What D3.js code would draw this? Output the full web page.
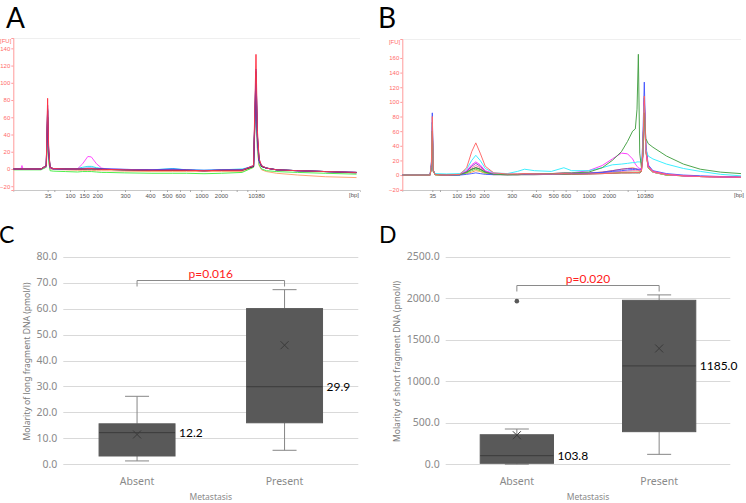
<!DOCTYPE html>
<html><head><meta charset="utf-8">
<script src="https://cdn.jsdelivr.net/npm/d3@7/dist/d3.min.js"></script>
<style>body{margin:0;background:#fff}svg{display:block}</style>
</head><body>
<svg id="c" width="746" height="503"></svg>
<script>
// ---------- Electropherogram data (migration units, FU) ----------
const ladderLabels = ["35","","100","150","200","300","400","500","600","","1000","2000","","","10380"];
const aLadderTimes = [9.91,11.83,16.35,20.39,24.24,32.22,39.43,44.33,48.08,50.97,54.23,59.9,64.43,67.5,70.0];
const bLadderTimes = [8.87,11.13,16.05,19.99,24.12,32.29,39.47,44.6,48.23,51.48,55.03,61.03,66.54,69.3,71.6];
const aYTicks = [-20,0,20,40,60,80,100,120,140];
const bYTicks = [-20,0,20,40,60,80,100,120,140,160];

const aTimes = [0,2.2,2.5,2.8,8,9.5,9.9,10.2,10.6,11.5,15,18.5,20,21.5,22.5,24,25.5,27,32,40,46,50,55,60,66,69.3,70.0,70.4,70.9,71.6,73,76,82,90,99];
const aOrange   = [0,0,0,0,0,2,35,8,0,-0.5,-1,-1.5,-1.5,-1.5,-1.5,-2,-2,-2,-2.5,-3,-3,-3,-3,-3,-3,2,85,22,4,-1,-3,-5,-7,-9,-10];
const aGreen    = [-1,-1,-1,-1,-1,2,45,10,-2,-2.5,-3,-3.5,-3,-3,-3,-3.5,-4,-4,-4.5,-5,-5,-5,-5.5,-5,-4,2,95,25,5,0,-2,-3,-4,-5,-6];
const aCyan     = [0,0,0,0,0,3,55,15,1,0,0,0.5,2,3,3,1.5,0.5,0,-0.5,-1,0.5,-1,-1.5,-1,0,3,95,30,8,3,1,-1,-2,-3,-4];
const aDarkGreen= [0,0,0,0,0,3,60,18,1,0,0,0,0,0.5,0.5,0,-0.5,-0.5,-1,-1.5,-1.5,-1.5,-2,-1.5,-1.5,3,100,33,9,3,1,-1,-2,-3,-4];
const aMagenta  = [0,0,4,0,0,3,60,18,1,0,0,0,6,14.5,14,6,1,0,-0.5,-1,-1,-1.5,-2,-1.5,-1.5,3,100,32,8,3,1,-1,-2,-3,-4];
const aPurple   = [0,0,0,0,0,4,74,22,2,0,0,0,0,0,0,0,-0.5,-0.5,-1,-1.5,-1,-1.5,-2,-1.5,-1,3,110,36,10,3,1,-1,-2,-3,-4];
const aBlack    = [0,0,0,0,0,4,68,20,2,0.5,0,0,0,0,0,0,0,-0.5,-1,-1.5,-1.5,-1.5,-2,-1.5,-1.5,3,113,38,10,3,1,-1,-2,-3,-4.5];
const aBlue     = [0,0,0,0,0,4,70,20,2,0.5,0,0,0.5,1,1,0.5,0,0,-0.5,-1,0,-1,-1.5,-1,-1,4,116,40,10,4,1,-1,-2,-3,-4];
const aRed      = [0,0,0,0,0,4,82,25,2,0.5,0,0,0,0.5,0.5,0,-0.5,-0.5,-1,-1.5,-1.5,-1.5,-2,-1.5,-1.5,4,133,45,12,4,1,-1,-2,-3,-4];

const bTimes = [0,8.2,8.6,8.86,9.15,9.7,13,17,19,20.5,21.7,23,24.5,27,31,34,36.1,39,44,47.7,50,55,59,62,64.7,66.5,68,68.8,69.3,69.7,70.1,70.6,71.0,71.45,71.9,72.6,74,78,83,88,94,100];
const bBlack   = [0,0,10,58,5,0.5,0,0.5,4,8,10,8,4,1,0.5,0.5,0.5,0.5,1,1,1,1.5,2,2.5,3,3,3,3,3,3,3,5,28,95,33,10,4,0,-1,-2,-2.5,-3];
const bOrange  = [0,0,10,60,5,0.5,0,0.5,2,4,6,5,2,0.5,0.5,0.5,1,1,1.5,2,2,3,4,6,8,9,10,9,8,6,5,6,28,95,33,10,4,0,-1,-2,-2.5,-3];
const bLime    = [0,0,10,62,5,0.5,0,0.5,3,6,8,6,3,1,0.5,0.5,1,1,1,1.5,1.5,2,2.5,3,3.5,4,4,4,4,4,4,6,28,98,35,10,4,0,-1,-2,-2.5,-3];
const bPink    = [0,0,12,66,6,1,0,1,5,10,13,10,5,1.5,1,1,1.5,1.5,1.5,2,2,2.5,3,4,5,5.5,6,6,6,6,6,7,25,100,35,11,4,0.5,-1,-2,-2.5,-3];
const bPurple  = [0,0,14,72,6,1,0,0.5,5,12,16,12,5,1.5,1,1,1,1,1.5,2,2,2.5,4,6,8,9,9,8.5,8,7.5,7,8,30,105,38,12,5,1,-1,-2,-2.5,-3];
const bBlue    = [0,0,18,85,7,1,0,0,1,2,3,2,1,0.5,0.5,0.5,1,1,1.5,2,2,2.5,3.5,5,6,7,7.5,8,8,8,8,9,45,127,42,14,6,2,0,-1,-2,-3];
const bMagenta = [0,0,12,65,6,1,0,1,6,14,18,14,6,2,1,1,1.5,1.5,2,3,3,6,13,22,30,29,22,15,12,10,9,8,20,100,35,12,5,1,-1,-2,-2.5,-3];
const bCyan    = [0,0,12,70,6,2,1.5,2,8,20,27,20,9,3,2,5,8,6,5,10,6,6,10,14,15,16,17,17,18,18,18,18,28,95,35,26,22,15,9,5,1,-1];
const bGreen   = [0,0,10,60,6,0.5,0,0.5,4,8,10,8,4,1,0.5,1,1.5,1.5,2,3,3,4,10,20,32,46,60,63,90,165,30,10,25,85,50,43,38,26,15,8,4,2];
const bRed     = [0,0,15,80,6,0.5,0,1,10,32,44,30,12,3,1.5,1.5,2,1.5,1.5,2,1.5,1.5,2,2.5,3,3,3.5,3.5,3.5,3.5,3.5,5,30,108,35,12,5,1,-1,-2,-2.5,-3];

// ---------- Box plot data ----------
const categories = ["Absent","Present"];
const longMin = [1.3, 5.4];
const longQ1 = [3.2, 16.0];
const longMedian = [12.2, 29.9];
const longQ3 = [15.6, 60.0];
const longMax = [26.2, 67.3];
const longMean = [11.5, 45.9];
const longTicks = [0,10,20,30,40,50,60,70,80];

const shortMin = [1, 120];
const shortQ1 = [12, 393];
const shortMedian = [103.8, 1185.0];
const shortQ3 = [356, 1975];
const shortMax = [425, 2040];
const shortMean = [350, 1395];
const shortOutlierCat = ["Absent"];
const shortOutlierVal = [1965];
const shortTicks = [0,500,1000,1500,2000,2500];

const pLong = "p=0.016", pShort = "p=0.020";
const bracketLong = 70.9, bracketShort = 2155;

// ---------- drawing ----------
const svg = d3.select("#c");
const tickFont = "'Liberation Sans', Arial, sans-serif";

function epg(o){
  const g = svg.append("g");
  const x = d3.scaleLinear().domain([0,100]).range([o.x0,o.x1]);
  const y = d3.scaleLinear().domain(o.yDomain).range([o.yBot,o.yTop]);
  const id = "clip"+o.name;
  svg.append("clipPath").attr("id",id).append("rect")
    .attr("x",o.x0).attr("y",o.yTop).attr("width",o.x1-o.x0).attr("height",o.yBot-o.yTop);
  g.append("line").attr("x1",o.x0).attr("x2",o.x1).attr("y1",o.yTop+0.5).attr("y2",o.yTop+0.5)
    .attr("stroke","#efefef");
  const xa = g.append("g").attr("transform",`translate(0,${o.yBot})`)
    .call(d3.axisBottom(x).tickValues(o.ladder).tickFormat((d,i)=>ladderLabels[i]).tickSize(2).tickPadding(2));
  xa.select(".domain").attr("stroke","#c8c8c8");
  xa.selectAll(".tick line").attr("stroke","#aaa");
  xa.selectAll("text").attr("font-size",6).attr("font-family",tickFont).attr("fill","#555");
  const ya = g.append("g").attr("transform",`translate(${o.x0},0)`)
    .call(d3.axisLeft(y).tickValues(o.yTicks).tickSize(2).tickPadding(1));
  ya.select(".domain").attr("stroke","#ff9a9a");
  ya.selectAll(".tick line").attr("stroke","#ff9a9a");
  ya.selectAll("text").attr("font-size",6).attr("font-family",tickFont).attr("fill","#ff6a6a");
  g.append("text").attr("x",o.x0-2).attr("y",o.yTop+5).attr("text-anchor","end")
    .attr("font-size",6).attr("font-family",tickFont).attr("fill","#ff6a6a").text("[FU]");
  g.append("text").attr("x",o.bpX).attr("y",o.yBot+7).attr("text-anchor","middle")
    .attr("font-size",6).attr("font-family",tickFont).attr("fill","#555").text("[bp]");
  const line = d3.line().x((d,i)=>x(o.times[i])).y(d=>y(d));
  const tg = g.append("g").attr("clip-path",`url(#${id})`);
  o.traces.forEach(([vals,col])=>{
    tg.append("path").attr("d",line(vals)).attr("fill","none").attr("stroke",col).attr("stroke-width",1)
      .attr("stroke-linejoin","round").attr("opacity",0.95);
  });
}

epg({name:"A",x0:13.3,x1:360,yTop:38,yBot:190,yDomain:[-24.4,152],ladder:aLadderTimes,yTicks:aYTicks,bpX:354,
  times:aTimes,
  traces:[[aOrange,"#ffa070"],[aGreen,"#44ee44"],[aCyan,"#22ddee"],[aDarkGreen,"#1a8c1a"],[aMagenta,"#ff44ff"],
          [aPurple,"#8844cc"],[aBlack,"#222"],[aBlue,"#3344ff"],[aRed,"#ff3344"]]});

epg({name:"B",x0:402.3,x1:741,yTop:39,yBot:190,yDomain:[-20.4,185.9],ladder:bLadderTimes,yTicks:bYTicks,bpX:739,
  times:bTimes,
  traces:[[bBlack,"#333"],[bOrange,"#ffa040"],[bLime,"#66dd44"],[bPink,"#ff77aa"],[bPurple,"#8844cc"],
          [bBlue,"#4455ff"],[bMagenta,"#ff33ff"],[bCyan,"#33eeff"],[bGreen,"#44a044"],[bRed,"#ff6666"]]});

const letterFont = "Lato, 'Open Sans', sans-serif";
[["A",6,27.5,28],["B",378,27.5,28],["C",-1,242.5,23],["D",379,243.3,23]].forEach(([t,xx,yy,fs])=>{
  svg.append("text").attr("x",xx).attr("y",yy).attr("font-size",fs).attr("font-family",letterFont).attr("fill","#000").text(t);
});

function boxplot(o){
  const g = svg.append("g");
  const y = d3.scaleLinear().domain([o.ticks[0],o.ticks[o.ticks.length-1]]).range([464.3,256.7]);
  const x = d3.scaleBand().domain(categories).range([o.gx0,o.gx1]);
  const bw = x.bandwidth()*0.515;
  const cx = c => x(c)+x.bandwidth()/2;
  o.ticks.forEach(t=>{
    g.append("line").attr("x1",o.gx0).attr("x2",o.gx1).attr("y1",Math.round(y(t))+0.5).attr("y2",Math.round(y(t))+0.5)
      .attr("stroke","#d9d9d9");
    g.append("text").attr("x",o.gx0-6).attr("y",y(t)+3.5).attr("text-anchor","end")
      .attr("font-size",10.5).attr("font-family","'Noto Sans', sans-serif").attr("fill","#8a8a8a").text(t.toFixed(1));
  });
  categories.forEach((c,i)=>{
    const xc = cx(c);
    g.append("line").attr("x1",xc).attr("x2",xc).attr("y1",y(o.q3[i])).attr("y2",y(o.max[i])).attr("stroke","#868686");
    g.append("line").attr("x1",xc).attr("x2",xc).attr("y1",y(o.q1[i])).attr("y2",y(o.min[i])).attr("stroke","#868686");
    g.append("line").attr("x1",xc-12).attr("x2",xc+12).attr("y1",y(o.max[i])).attr("y2",y(o.max[i])).attr("stroke","#868686");
    g.append("line").attr("x1",xc-12).attr("x2",xc+12).attr("y1",y(o.min[i])).attr("y2",y(o.min[i])).attr("stroke","#868686");
    g.append("rect").attr("x",xc-bw/2).attr("width",bw).attr("y",y(o.q3[i])).attr("height",y(o.q1[i])-y(o.q3[i]))
      .attr("fill","#595959").attr("stroke","#595959");
    g.append("line").attr("x1",xc-bw/2).attr("x2",xc+bw/2).attr("y1",y(o.med[i])).attr("y2",y(o.med[i]))
      .attr("stroke","#3c3c3c").attr("stroke-width",1);
    const my = y(o.mean[i]);
    g.append("path").attr("d",`M${xc-4},${my-4}L${xc+4},${my+4}M${xc-4},${my+4}L${xc+4},${my-4}`)
      .attr("stroke","#3a3a3a").attr("stroke-width",1);
    g.append("text").attr("x",xc+bw/2+4).attr("y",y(o.med[i])+4.5)
      .attr("font-size",12).attr("font-family","Lato, sans-serif").attr("fill","#000").text(o.med[i].toFixed(1));
    g.append("text").attr("x",xc).attr("y",484.5).attr("text-anchor","middle")
      .attr("font-size",10.5).attr("font-family","'Noto Sans', sans-serif").attr("fill","#8a8a8a").text(c);
  });
  (o.outCat||[]).forEach((c,i)=>{
    g.append("circle").attr("cx",cx(c)).attr("cy",y(o.outVal[i])).attr("r",2.3).attr("fill","#595959");
  });
  const by = Math.round(y(o.bracket))+0.5;
  const x1 = cx(categories[0]), x2 = cx(categories[1]);
  g.append("path").attr("d",`M${x1},${by+6}V${by}H${x2}V${by+6}`).attr("fill","none").attr("stroke","#8a8a8a");
  g.append("text").attr("x",(x1+x2)/2).attr("y",by-3).attr("text-anchor","middle")
    .attr("font-size",12).attr("font-family","Lato, sans-serif").attr("fill","#ff2020").text(o.p);
  g.append("text").attr("x",(o.gx0+o.gx1)/2).attr("y",500).attr("text-anchor","middle")
    .attr("font-size",8.5).attr("font-family","'Noto Sans', sans-serif").attr("fill","#8a8a8a").text("Metastasis");
  g.append("text").attr("transform",`translate(${o.titleX},361.5) rotate(-90)`).attr("text-anchor","middle")
    .attr("font-size",8.6).attr("font-family","'Noto Sans', sans-serif").attr("fill","#7a7a7a").text(o.title);
}

boxplot({gx0:63.3,gx1:358.3,ticks:longTicks,min:longMin,q1:longQ1,med:longMedian,q3:longQ3,max:longMax,mean:longMean,
  bracket:bracketLong,p:pLong,titleX:29.5,title:"Molarity of long fragment DNA (pmol/l)"});
boxplot({gx0:445.7,gx1:730.3,ticks:shortTicks,min:shortMin,q1:shortQ1,med:shortMedian,q3:shortQ3,max:shortMax,mean:shortMean,
  outCat:shortOutlierCat,outVal:shortOutlierVal,
  bracket:bracketShort,p:pShort,titleX:400,title:"Molarity of short fragment DNA (pmol/l)"});
</script>
</body></html>
